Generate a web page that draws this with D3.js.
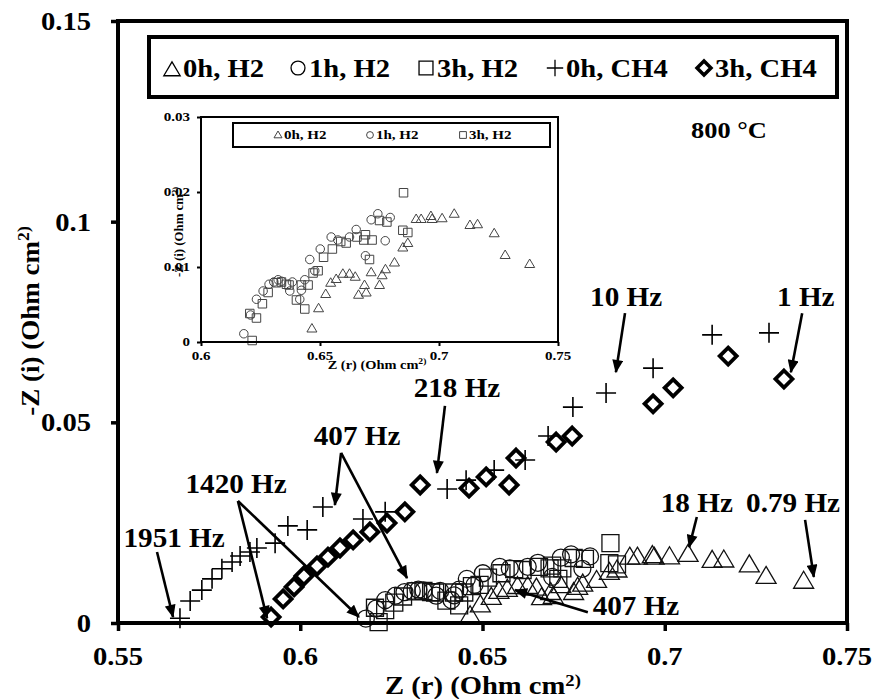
<!DOCTYPE html>
<html><head><meta charset="utf-8">
<script src="https://cdn.jsdelivr.net/npm/d3@7"></script>
<style>body{margin:0;background:#fff}svg{display:block}text{font-family:"Liberation Serif","Times New Roman",serif;font-weight:bold;fill:#000}</style>
</head><body><script>
// ---------- data ----------
const mainXTicks=[0.55,0.6,0.65,0.7,0.75];
const mainYTicks=[0,0.05,0.1,0.15];
const insetXTicks=[0.6,0.65,0.7,0.75];
const insetYTicks=[0,0.01,0.02,0.03];
const legendLabels=["0h, H2","1h, H2","3h, H2","0h, CH4","3h, CH4"];
const insetLegendLabels=["0h, H2","1h, H2","3h, H2"];
const xTitle="Z (r) (Ohm cm", yTitle="-Z (i) (Ohm cm", titleSup="2)";
const tempLabel="800 °C";

const h2_0h=[[0.6466,0.0018],[0.6494,0.0045],[0.6524,0.0064],[0.6545,0.0079],[0.6568,0.0084],[0.6596,0.0091],[0.6624,0.0091],[0.6648,0.0087],[0.6662,0.0063],[0.6687,0.0076],[0.6694,0.0066],[0.6715,0.0093],[0.6750,0.0076],[0.6761,0.0089],[0.6775,0.0097],[0.6813,0.0106],[0.6848,0.0126],[0.6869,0.0132],[0.6904,0.0164],[0.6925,0.0164],[0.6966,0.0168],[0.6971,0.0164],[0.7013,0.0165],[0.7064,0.0171],[0.7130,0.0156],[0.7162,0.0157],[0.7232,0.0145],[0.7278,0.0116],[0.7381,0.0104]];
const h2_1h=[[0.6180,0.0011],[0.6208,0.0036],[0.6233,0.0057],[0.6261,0.0068],[0.6286,0.0077],[0.6306,0.0080],[0.6324,0.0083],[0.6338,0.0081],[0.6373,0.0068],[0.6384,0.0080],[0.6415,0.0057],[0.6422,0.0069],[0.6436,0.0083],[0.6457,0.0110],[0.6478,0.0095],[0.6501,0.0124],[0.6547,0.0140],[0.6575,0.0136],[0.6624,0.0140],[0.6652,0.0150],[0.6691,0.0115],[0.6715,0.0163],[0.6743,0.0171],[0.6774,0.0135],[0.6795,0.0166]];
const h2_3h=[[0.6215,0.0002],[0.6205,0.0038],[0.6233,0.0032],[0.6258,0.0051],[0.6282,0.0066],[0.6317,0.0079],[0.6338,0.0080],[0.6359,0.0077],[0.6370,0.0076],[0.6401,0.0056],[0.6422,0.0076],[0.6436,0.0044],[0.6450,0.0076],[0.6471,0.0092],[0.6492,0.0095],[0.6515,0.0113],[0.6552,0.0124],[0.6587,0.0134],[0.6610,0.0132],[0.6655,0.0140],[0.6684,0.0136],[0.6691,0.0143],[0.6708,0.0110],[0.6719,0.0136],[0.6750,0.0162],[0.6781,0.0160],[0.6848,0.0149],[0.6851,0.0199],[0.6869,0.0146]];
const ch4_0h=[[0.5670,0.0012],[0.5698,0.0055],[0.5730,0.0082],[0.5758,0.0110],[0.5785,0.0135],[0.5813,0.0152],[0.5835,0.0167],[0.5862,0.0177],[0.5881,0.0187],[0.5931,0.0199],[0.5966,0.0242],[0.6019,0.0232],[0.6062,0.0289],[0.6172,0.0259],[0.6233,0.0277],[0.6403,0.0334],[0.6455,0.0356],[0.6532,0.0381],[0.6617,0.0406],[0.6680,0.0466],[0.6748,0.0538],[0.6839,0.0573],[0.6968,0.0635],[0.7130,0.0718],[0.7286,0.0723]];
const ch4_3h=[[0.5920,0.0015],[0.5953,0.0060],[0.5983,0.0090],[0.6010,0.0117],[0.6046,0.0142],[0.6076,0.0164],[0.6109,0.0187],[0.6145,0.0207],[0.6191,0.0227],[0.6238,0.0249],[0.6287,0.0277],[0.6329,0.0344],[0.6463,0.0336],[0.6510,0.0364],[0.6573,0.0344],[0.6592,0.0411],[0.6702,0.0451],[0.6746,0.0466],[0.6968,0.0546],[0.7023,0.0586],[0.7174,0.0665],[0.7327,0.0608]];
// annotations in data units: text anchor (center, baseline) and arrows [x1,y1,x2,y2]
const annotations=[
 {label:"10 Hz",tx:0.6894,ty:0.0790,arrows:[[0.6891,0.0772,0.6866,0.0625]]},
 {label:"1 Hz",tx:0.7387,ty:0.0790,arrows:[[0.7377,0.0772,0.7346,0.0625]]},
 {label:"218 Hz",tx:0.6430,ty:0.0563,arrows:[[0.6397,0.0541,0.6375,0.0374]]},
 {label:"407 Hz",tx:0.6156,ty:0.0444,arrows:[[0.6112,0.0424,0.6095,0.0294],[0.6112,0.0424,0.6293,0.0112]]},
 {label:"1420 Hz",tx:0.5824,ty:0.0324,arrows:[[0.5829,0.0304,0.5909,0.0012],[0.5829,0.0304,0.6161,0.0015]]},
 {label:"1951 Hz",tx:0.5654,ty:0.0189,arrows:[[0.5607,0.0177,0.5651,0.0015]]},
 {label:"18 Hz",tx:0.7088,ty:0.0277,arrows:[[0.7088,0.0264,0.7067,0.0189]]},
 {label:"0.79 Hz",tx:0.7352,ty:0.0277,arrows:[[0.7385,0.0257,0.7409,0.0115]]},
 {label:"407 Hz",tx:0.6921,ty:0.0020,arrows:[[0.6789,0.0027,0.6589,0.0082]]}
];
const tempPos=[0.7176,0.1209];

// ---------- setup ----------
const svg=d3.select('body').append('svg').attr('width',879).attr('height',699);
const x=d3.scaleLinear().domain([0.55,0.75]).range([118,847]);
const y=d3.scaleLinear().domain([0,0.15]).range([623,21]);
const xi=d3.scaleLinear().domain([0.6,0.75]).range([201,558]);
const yi=d3.scaleLinear().domain([0,0.03]).range([342,117]);

svg.append('defs').append('marker').attr('id','ah').attr('viewBox','0 0 12 10')
  .attr('refX',11).attr('refY',5).attr('markerUnits','userSpaceOnUse')
  .attr('markerWidth',14).attr('markerHeight',11).attr('orient','auto')
  .append('path').attr('d','M0,0L12,5L0,10Z').attr('fill','#000');

function label(parent,px,py,str,size,anchor,sx){
  return parent.append('text').attr('transform',`translate(${px},${py}) scale(${sx},1)`)
    .attr('text-anchor',anchor).attr('font-size',size).text(str);
}
const sym={
  tri:k=>`M0,${-10*k}L${10*k},${7*k}L${-10*k},${7*k}Z`,
  circ:k=>{const r=8.5*k;return `M${r},0A${r},${r},0,1,1,${-r},0A${r},${r},0,1,1,${r},0Z`;},
  sq:k=>`M${-8.5*k},${-8.5*k}H${8.5*k}V${8.5*k}H${-8.5*k}Z`,
  plus:k=>`M${-10*k},0H${10*k}M0,${-10*k}V${10*k}`,
  dia:k=>`M0,${-8.5*k}L${8.5*k},0L0,${8.5*k}L${-8.5*k},0Z`
};
function series(g,data,sx,sy,shape,k,stroke,sw){
  g.append('g').selectAll('path').data(data).join('path')
   .attr('transform',d=>`translate(${sx(d[0])},${sy(d[1])})`)
   .attr('d',sym[shape](k)).attr('fill','none').attr('stroke',stroke).attr('stroke-width',sw);
}

// ---------- main data ----------
const gm=svg.append('g');
series(gm,h2_0h,x,y,'tri',1,'#111',1.3);
series(gm,h2_1h,x,y,'circ',1,'#111',1.3);
series(gm,h2_3h,x,y,'sq',1,'#111',1.3);
series(gm,ch4_0h,x,y,'plus',1,'#000',1.6);
series(gm,ch4_3h,x,y,'dia',1,'#000',3.8);

// ---------- main axes ----------
const ax=svg.append('g').attr('transform','translate(0,623)')
  .call(d3.axisBottom(x).tickValues(mainXTicks).tickSize(8).tickFormat(''));
const ay=svg.append('g').attr('transform','translate(118,0)')
  .call(d3.axisLeft(y).tickValues(mainYTicks).tickSize(7).tickFormat(''));
[ax,ay].forEach(a=>{a.select('.domain').remove();a.selectAll('line').attr('stroke','#000').attr('stroke-width',3.5);});
svg.append('rect').attr('x',x(0.55)).attr('y',y(0.15)).attr('width',x(0.75)-x(0.55)).attr('height',y(0)-y(0.15))
  .attr('fill','none').attr('stroke','#000').attr('stroke-width',4);
mainXTicks.forEach(v=>label(svg,x(v),665,String(v),26,'middle',1.1));
mainYTicks.forEach(v=>label(svg,91,y(v)+9,String(v),26,'end',1.1));
// axis titles
const xt=label(svg,483,694,xTitle,26,'middle',1.1);
xt.append('tspan').attr('font-size',17).attr('dy',-8).text(titleSup);
const yt=svg.append('text').attr('transform','translate(39,321) rotate(-90) scale(1.04,1)')
  .attr('text-anchor','middle').attr('font-size',26).text(yTitle);
yt.append('tspan').attr('font-size',17).attr('dy',-10).text(titleSup);

// ---------- main legend ----------
svg.append('rect').attr('x',149).attr('y',37).attr('width',688).attr('height',60)
  .attr('fill','#fff').attr('stroke','#000').attr('stroke-width',4);
const legShapes=['tri','circ','sq','plus','dia'];
const legX=[172,298,426,555,704];
legendLabels.forEach((t,i)=>{
  svg.append('path').attr('transform',`translate(${legX[i]},${i===0?70:68})`).attr('d',sym[legShapes[i]](0.82))
    .attr('fill','none').attr('stroke','#000').attr('stroke-width',i===4?3.5:1.3);
  label(svg,legX[i]+11,77,t,26,'start',1.1);
});
label(svg,x(tempPos[0]),y(tempPos[1]),tempLabel,24,'middle',1.1);

// ---------- annotations ----------
annotations.forEach(a=>{
  label(svg,x(a.tx),y(a.ty),a.label,27,'middle',1.08);
  a.arrows.forEach(r=>{
    svg.append('line').attr('x1',x(r[0])).attr('y1',y(r[1])).attr('x2',x(r[2])).attr('y2',y(r[3]))
      .attr('stroke','#000').attr('stroke-width',2.6).attr('marker-end','url(#ah)');
  });
});

// ---------- inset ----------
const gi=svg.append('g');
series(gi,h2_0h,xi,yi,'tri',0.5,'#444',1);
series(gi,h2_1h,xi,yi,'circ',0.5,'#444',1);
series(gi,h2_3h,xi,yi,'sq',0.5,'#444',1);
const iax=gi.append('g').attr('transform','translate(0,342)')
  .call(d3.axisBottom(xi).tickValues(insetXTicks).tickSize(4).tickFormat(''));
const iay=gi.append('g').attr('transform','translate(201,0)')
  .call(d3.axisLeft(yi).tickValues(insetYTicks).tickSize(4).tickFormat(''));
[iax,iay].forEach(a=>{a.select('.domain').remove();a.selectAll('line').attr('stroke','#000').attr('stroke-width',2);});
gi.append('rect').attr('x',xi(0.6)).attr('y',yi(0.03)).attr('width',xi(0.75)-xi(0.6)).attr('height',yi(0)-yi(0.03))
  .attr('fill','none').attr('stroke','#000').attr('stroke-width',2);
insetXTicks.forEach(v=>label(gi,xi(v),360,String(v),12,'middle',1.25));
insetYTicks.forEach(v=>label(gi,190,yi(v)+4,String(v),12,'end',1.25));
const ixt=label(gi,377,369,xTitle,12,'middle',1.2);
ixt.append('tspan').attr('font-size',8).attr('dy',-5).text(titleSup);
const iyt=gi.append('text').attr('transform','translate(183,232) rotate(-90) scale(1.07,1)')
  .attr('text-anchor','middle').attr('font-size',12).text(yTitle);
iyt.append('tspan').attr('font-size',8).attr('dy',-5).text(titleSup);
gi.append('rect').attr('x',233).attr('y',123).attr('width',317).attr('height',24)
  .attr('fill','#fff').attr('stroke','#000').attr('stroke-width',2);
const iLegX=[278,370,463];
insetLegendLabels.forEach((t,i)=>{
  gi.append('path').attr('transform',`translate(${iLegX[i]},135)`).attr('d',sym[legShapes[i]](0.4))
    .attr('fill','none').attr('stroke','#444').attr('stroke-width',1);
  label(gi,iLegX[i]+6,139,t,12,'start',1.25);
});
</script></body></html>
